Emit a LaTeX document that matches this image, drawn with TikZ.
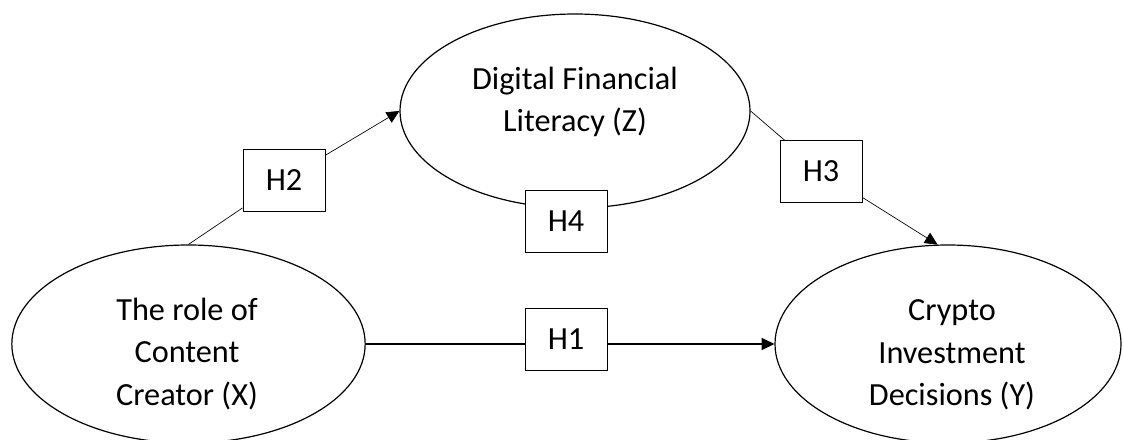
\documentclass[tikz,border=0pt]{standalone}
\usepackage{fontspec}
\setmainfont{Carlito}
\usetikzlibrary{shapes.geometric,arrows.meta}
\begin{document}
\begin{tikzpicture}[x=0.75pt,y=-0.75pt,
  oval/.style={draw,ellipse,line width=0.9pt,inner sep=0pt},
  hbox/.style={draw,fill=white,line width=0.75pt,minimum width=61.5pt,minimum height=46.5pt,inner sep=0pt,font=\fontsize{24.2pt}{32pt}\selectfont},
  lbl/.style={align=center,inner sep=0pt,font=\fontsize{24.2pt}{32pt}\selectfont},
  thin/.style={line width=0.5pt},
  tip/.style={-{Triangle[length=9.5pt,width=9pt]}}
]
\useasboundingbox (0,0) rectangle (1123,439);
% ellipses
\node[oval,minimum width=262.5pt,minimum height=145.5pt] (Z) at (575,111) {};
\node[oval,minimum width=265pt,minimum height=148.5pt] (X) at (188.5,344) {};
\node[oval,minimum width=259.5pt,minimum height=148.5pt] (Y) at (948,344) {};
\node[lbl] (tZ) at (575,102) {Digital Financial\\Literacy (Z)};
\node[lbl] (tX) at (187,354) {The role of\\Content\\Creator (X)};
\node[lbl] (tY) at (952,355) {Crypto\\Investment\\Decisions (Y)};
% boxes
\node[hbox] (H2) at (284,180) {H2};
\node[hbox] (H3) at (821,171.5) {H3};
\node[hbox] (H1) at (566,339) {H1};
\node[hbox] (H4) at (566,221.5) {H4};
% connectors
\draw[thin] (X.north) -- (H2);
\draw[thin,tip] (H2) -- (Z.west);
\draw[thin] (Z.east) -- (H3);
\draw[thin,tip] (H3) -- (Y.96);
\draw[line width=0.9pt] (X.east) -- (X.east -| H1.west);
\draw[line width=0.9pt,tip] (H1.east |- Y.west) -- (Y.west);
\end{tikzpicture}
\end{document}
